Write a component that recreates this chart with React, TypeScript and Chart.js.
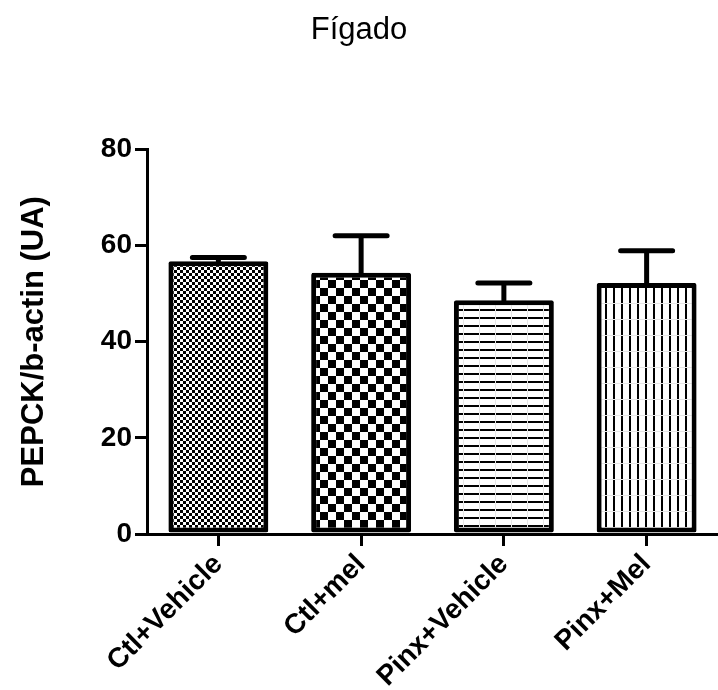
import React, { useEffect, useRef } from "react";
import { Chart, registerables } from "chart.js";

Chart.register(...registerables);

const categories = ["Ctl+Vehicle", "Ctl+mel", "Pinx+Vehicle", "Pinx+Mel"];
const means = [56.7, 54.3, 48.6, 52.2];
const sems = [0.8, 7.7, 3.6, 6.7];
const yTicks = [0, 20, 40, 60, 80];
const chartTitle = "Fígado";
const yTitle = "PEPCK/b-actin (UA)";

const FONT = "'Liberation Sans', Arial, Helvetica, sans-serif";

function makePattern(kind: string): CanvasPattern | string {
  const c = document.createElement("canvas");
  const ctx = c.getContext("2d");
  if (!ctx) return "#fff";
  if (kind === "fine") {
    c.width = 6; c.height = 6;
    ctx.fillStyle = "#fff"; ctx.fillRect(0, 0, 6, 6);
    ctx.fillStyle = "#000";
    ctx.fillRect(0, 0, 3, 3); ctx.fillRect(3, 3, 3, 3);
  } else if (kind === "coarse") {
    c.width = 16; c.height = 16;
    ctx.fillStyle = "#fff"; ctx.fillRect(0, 0, 16, 16);
    ctx.fillStyle = "#000";
    ctx.fillRect(0, 0, 8, 8); ctx.fillRect(8, 8, 8, 8);
  } else if (kind === "hlines") {
    c.width = 16; c.height = 8;
    ctx.fillStyle = "#fff"; ctx.fillRect(0, 0, 16, 8);
    ctx.fillStyle = "#000"; ctx.fillRect(0, 5, 16, 2);
    ctx.fillStyle = "#e6e6e6"; ctx.fillRect(15, 0, 1, 8);
  } else {
    c.width = 8; c.height = 16;
    ctx.fillStyle = "#fff"; ctx.fillRect(0, 0, 8, 16);
    ctx.fillStyle = "#000"; ctx.fillRect(5, 0, 2, 16);
    ctx.fillStyle = "#e6e6e6"; ctx.fillRect(0, 15, 8, 1);
  }
  const p = ctx.createPattern(c, "repeat");
  return p || "#fff";
}

const errorBarPlugin = {
  id: "errorBars",
  afterDatasetsDraw(chart: any) {
    const { ctx, scales } = chart;
    const xs = scales.x;
    const ys = scales.y;
    ctx.save();
    ctx.strokeStyle = "#000";
    ctx.lineWidth = 5;
    ctx.lineCap = "round";
    means.forEach((m, i) => {
      const x = xs.getPixelForValue(i);
      const yb = ys.getPixelForValue(m);
      const yt = ys.getPixelForValue(m + sems[i]);
      ctx.beginPath();
      ctx.moveTo(x, yb);
      ctx.lineTo(x, yt);
      ctx.moveTo(x - 26, yt);
      ctx.lineTo(x + 26, yt);
      ctx.stroke();
    });
    ctx.restore();
  },
};

export default function App() {
  const ref = useRef<HTMLCanvasElement>(null);
  useEffect(() => {
    if (!ref.current) return;
    const bgs = [makePattern("fine"), makePattern("coarse"), makePattern("hlines"), makePattern("vlines")];
    const chart = new Chart(ref.current, {
      type: "bar",
      data: {
        labels: categories,
        datasets: [
          {
            data: means,
            backgroundColor: bgs as any,
            borderColor: "#000",
            borderWidth: 5,
            borderSkipped: false,
            borderRadius: 2,
            categoryPercentage: 1,
            barPercentage: 0.7,
          },
        ],
      },
      options: {
        animation: false,
        responsive: false,
        layout: { padding: 0 },
        plugins: {
          legend: { display: false },
          tooltip: { enabled: false },
          title: {
            display: true,
            text: chartTitle,
            color: "#000",
            font: { family: FONT, size: 31, weight: "normal" },
            padding: { top: 12, bottom: 100 },
          },
        },
        scales: {
          x: {
            offset: true,
            border: { display: true, color: "#000", width: 3 },
            grid: {
              display: true,
              drawOnChartArea: false,
              drawTicks: true,
              offset: false,
              tickLength: 12,
              lineWidth: 3,
              color: "#000",
            },
            ticks: {
              color: "#000",
              font: { family: FONT, size: 28, weight: "bold" },
              minRotation: 45,
              maxRotation: 45,
              padding: 2,
            },
            afterFit(s: any) {
              s.paddingLeft = 0;
              s.paddingRight = 0;
              s.height = 156;
            },
          },
          y: {
            min: 0,
            max: 80,
            border: { display: true, color: "#000", width: 3 },
            grid: {
              display: true,
              drawOnChartArea: false,
              drawTicks: true,
              tickLength: 12,
              lineWidth: 3,
              color: "#000",
            },
            afterBuildTicks(s: any) {
              s.ticks = yTicks.map((v) => ({ value: v }));
            },
            ticks: {
              color: "#000",
              font: { family: FONT, size: 28, weight: "bold" },
              padding: 3,
            },
            title: {
              display: true,
              text: yTitle,
              color: "#000",
              font: { family: FONT, size: 31, weight: "bold" },
              padding: { top: 16, bottom: 0 },
            },
            afterFit(s: any) {
              s.width = 147;
              s.paddingTop = 0;
              s.paddingBottom = 0;
            },
          },
        },
      },
      plugins: [errorBarPlugin],
    });
    return () => chart.destroy();
  }, []);
  return (
    <div style={{ position: "absolute", left: 0, top: 0, width: 718, height: 690, background: "#fff" }}>
      <canvas ref={ref} width={718} height={690} />
    </div>
  );
}
